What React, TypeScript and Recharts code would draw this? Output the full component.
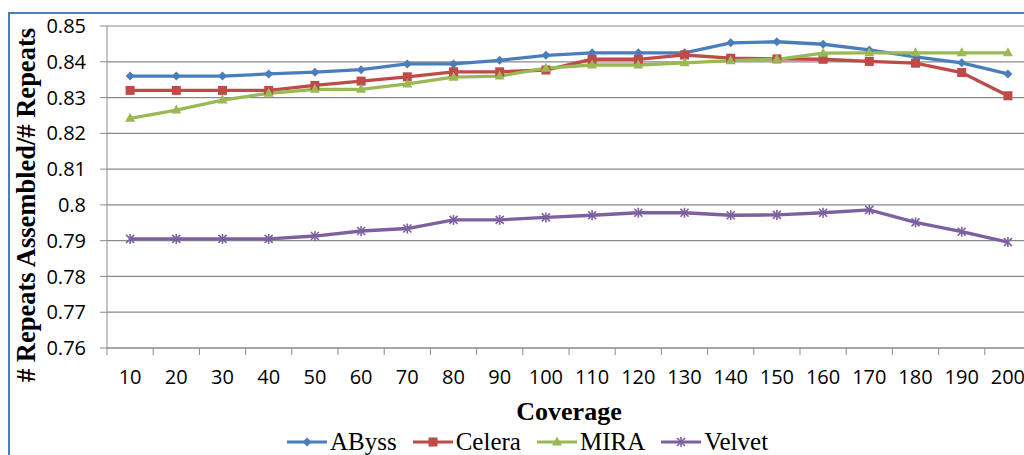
import { CartesianGrid, Label, Legend, Line, LineChart, XAxis, YAxis } from "recharts"

const coverage = [10, 20, 30, 40, 50, 60, 70, 80, 90, 100, 110, 120, 130, 140, 150, 160, 170, 180, 190, 200]

const abyss = [0.836, 0.836, 0.836, 0.8366, 0.8371, 0.8378, 0.8394, 0.8394, 0.8404, 0.8418, 0.8425, 0.8425, 0.8425, 0.8453, 0.8456, 0.8449, 0.8433, 0.8414, 0.8397, 0.8366]
const celera = [0.832, 0.832, 0.832, 0.832, 0.8334, 0.8346, 0.8358, 0.8372, 0.8372, 0.8377, 0.8407, 0.8407, 0.8419, 0.841, 0.8408, 0.8407, 0.8401, 0.8396, 0.837, 0.8305]
const mira = [0.8242, 0.8265, 0.8293, 0.8312, 0.8323, 0.8323, 0.8338, 0.8357, 0.836, 0.8382, 0.8391, 0.8391, 0.8397, 0.8403, 0.8407, 0.8424, 0.8425, 0.8425, 0.8425, 0.8425]
const velvet = [0.7905, 0.7905, 0.7905, 0.7905, 0.7913, 0.7927, 0.7934, 0.7958, 0.7958, 0.7965, 0.7971, 0.7978, 0.7978, 0.7971, 0.7972, 0.7978, 0.7986, 0.7951, 0.7925, 0.7896]

const yTicks = [0.76, 0.77, 0.78, 0.79, 0.8, 0.81, 0.82, 0.83, 0.84, 0.85]

const seriesNames = ["AByss", "Celera", "MIRA", "Velvet"]
const seriesColors = ["#4A7EBB", "#BE4B48", "#98B954", "#7D60A0"]

const data = coverage.map((c, i) => ({
  coverage: c,
  AByss: abyss[i],
  Celera: celera[i],
  MIRA: mira[i],
  Velvet: velvet[i],
}))

const W = 1060
const H = 447
const margin = { top: 18, right: 37, left: 0, bottom: 0 }
const yAxisWidth = 99
const half = (W - yAxisWidth - margin.right) / coverage.length / 2
const gray = "#8a8a8a"
const tickFont = "'Open Sans', sans-serif"
const serif = "'Liberation Serif', 'Times New Roman', serif"

function Marker({ name, cx, cy, color }: { name: string; cx: number; cy: number; color: string }) {
  if (cx == null || cy == null) return null
  if (name === "AByss") {
    return <polygon points={`${cx},${cy - 4.5} ${cx + 4.5},${cy} ${cx},${cy + 4.5} ${cx - 4.5},${cy}`} fill={color} />
  }
  if (name === "Celera") {
    return <rect x={cx - 4.5} y={cy - 4.5} width={9} height={9} fill={color} />
  }
  if (name === "MIRA") {
    return <polygon points={`${cx},${cy - 5.5} ${cx + 5},${cy + 3.5} ${cx - 5},${cy + 3.5}`} fill={color} />
  }
  return (
    <g stroke={color} strokeWidth={1.6}>
      <line x1={cx - 4} y1={cy - 4} x2={cx + 4} y2={cy + 4} />
      <line x1={cx - 4} y1={cy + 4} x2={cx + 4} y2={cy - 4} />
      <line x1={cx} y1={cy - 5} x2={cx} y2={cy + 5} />
    </g>
  )
}

function XTick(props: any) {
  const { x, y, payload, index } = props
  const last = index === coverage.length - 1
  return (
    <g>
      <line x1={x - half} x2={x - half} y1={y - 7} y2={y} stroke={gray} />
      {last && <line x1={x + half} x2={x + half} y1={y - 7} y2={y} stroke={gray} />}
      <text x={x} y={y + 29} textAnchor="middle" fontFamily={tickFont} fontSize={20} fill="#000">
        {payload.value}
      </text>
    </g>
  )
}

function YTitle(props: any) {
  const { x, y, height } = props.viewBox
  const cx = x + 27
  const cy = y + height / 2 + 18
  return (
    <text
      x={cx}
      y={cy}
      textAnchor="middle"
      transform={`rotate(-90, ${cx}, ${cy})`}
      fontFamily={serif}
      fontWeight="bold"
      fontSize={26.5}
      fill="#000"
    >
      # Repeats Assembled/# Repeats
    </text>
  )
}

function LegendContent(props: any) {
  const items = props.payload || []
  return (
    <div style={{ display: "flex", alignItems: "center", whiteSpace: "nowrap" }}>
      {items.map((item: any) => (
        <div key={item.value} style={{ display: "flex", alignItems: "center", marginRight: 16 }}>
          <svg width={40} height={16} style={{ display: "block" }}>
            <line x1={0} x2={40} y1={8} y2={8} stroke={item.color} strokeWidth={3} />
            <Marker name={item.value} cx={20} cy={8} color={item.color} />
          </svg>
          <span style={{ fontFamily: serif, fontSize: 25, lineHeight: "26px", color: "#000", marginLeft: 3 }}>
            {item.value}
          </span>
        </div>
      ))}
    </div>
  )
}

export default function App() {
  // fixed box covers the whole window so the chart can run past the body margin on the right
  return (
    <div style={{ position: "fixed", left: 0, top: 0, width: 1024, height: 455, overflow: "hidden", background: "#fff" }}>
      <div
        style={{
          position: "absolute",
          left: 8,
          top: 12,
          width: 1100,
          height: 600,
          border: "2px solid #4A7EBB",
          boxSizing: "border-box",
        }}
      />
      <div style={{ position: "absolute", left: 8, top: 8 }}>
        <LineChart width={W} height={H} data={data} margin={margin}>
          <CartesianGrid vertical={false} stroke={gray} strokeWidth={1.2} />
          <XAxis
            dataKey="coverage"
            type="category"
            interval={0}
            padding={{ left: half, right: half }}
            height={107}
            tickSize={7}
            tickMargin={0}
            tickLine={false}
            axisLine={{ stroke: gray }}
            tick={(p: any) => <XTick {...p} />}
          >
            <Label
              value="Coverage"
              position="insideBottom"
              offset={35}
              fontFamily={serif}
              fontWeight="bold"
              fontSize={26}
              fill="#000"
            />
          </XAxis>
          <YAxis
            domain={[0.76, 0.85]}
            ticks={yTicks}
            width={yAxisWidth}
            tickSize={7}
            tickMargin={14}
            tickLine={{ stroke: gray }}
            axisLine={{ stroke: gray }}
            tick={{ fontFamily: tickFont, fontSize: 20, fill: "#000" }}
            tickFormatter={(v: number) => String(Number(v.toFixed(2)))}
            allowDataOverflow
          >
            <Label content={(p: any) => <YTitle {...p} />} />
          </YAxis>
          <Legend
            verticalAlign="middle"
            align="center"
            layout="horizontal"
            wrapperStyle={{ top: 421, left: 279, width: "auto" }}
            content={(p: any) => <LegendContent {...p} />}
          />
          {seriesNames.map((name, i) => (
            <Line
              key={name}
              dataKey={name}
              name={name}
              stroke={seriesColors[i]}
              strokeWidth={3.3}
              isAnimationActive={false}
              dot={(p: any) => <Marker key={`${name}-${p.index}`} name={name} cx={p.cx} cy={p.cy} color={seriesColors[i]} />}
              activeDot={false}
            />
          ))}
        </LineChart>
      </div>
    </div>
  )
}
